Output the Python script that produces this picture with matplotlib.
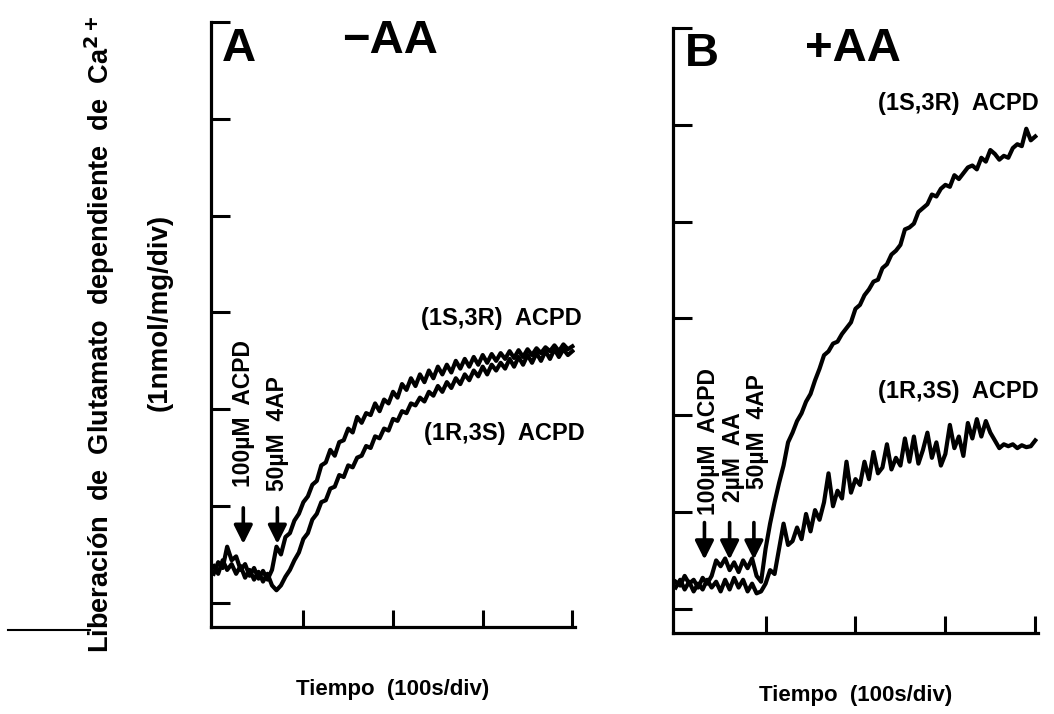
import numpy as np
import matplotlib
matplotlib.use("Agg")
import matplotlib.pyplot as plt
from matplotlib.lines import Line2D

plt.rcParams['font.family'] = ['Liberation Sans', 'DejaVu Sans']
plt.rcParams['font.weight'] = 'bold'

# time axis (div), sampled every 0.05 div
t = np.round(np.arange(0, 4.0001, 0.05), 2)

# panel A (-AA) traces, nmol/mg/div
a_1s3r = [0.30, 0.42, 0.36, 0.58, 0.44, 0.48, 0.34, 0.40, 0.28, 0.36,
          0.25, 0.33, 0.24, 0.34, 0.58, 0.50, 0.68, 0.72, 0.85, 0.92,
          1.04, 1.10, 1.22, 1.26, 1.42, 1.45, 1.58, 1.52, 1.66, 1.68,
          1.80, 1.76, 1.92, 1.86, 1.96, 1.94, 2.06, 1.98, 2.10, 2.06,
          2.18, 2.12, 2.26, 2.20, 2.32, 2.24, 2.36, 2.28, 2.40, 2.32,
          2.44, 2.36, 2.46, 2.38, 2.50, 2.42, 2.52, 2.44, 2.54, 2.46,
          2.56, 2.48, 2.57, 2.50, 2.58, 2.52, 2.60, 2.53, 2.61, 2.54,
          2.62, 2.56, 2.63, 2.58, 2.64, 2.60, 2.66, 2.60, 2.67, 2.62,
          2.65]
a_1r3s = [0.38, 0.30, 0.44, 0.34, 0.40, 0.30, 0.38, 0.26, 0.34, 0.24,
          0.32, 0.22, 0.30, 0.18, 0.13, 0.18, 0.27, 0.34, 0.44, 0.52,
          0.66, 0.72, 0.86, 0.92, 1.04, 1.06, 1.18, 1.20, 1.32, 1.30,
          1.42, 1.40, 1.50, 1.52, 1.62, 1.60, 1.72, 1.70, 1.80, 1.78,
          1.90, 1.88, 1.98, 1.96, 2.06, 2.04, 2.12, 2.08, 2.18, 2.14,
          2.24, 2.18, 2.28, 2.22, 2.32, 2.26, 2.36, 2.30, 2.40, 2.34,
          2.44, 2.36, 2.46, 2.40, 2.48, 2.42, 2.52, 2.44, 2.54, 2.46,
          2.56, 2.48, 2.58, 2.50, 2.60, 2.52, 2.62, 2.54, 2.62, 2.56,
          2.60]

# panel B (+AA) traces
b_1s3r = [0.28, 0.24, 0.34, 0.26, 0.30, 0.22, 0.32, 0.26, 0.34, 0.50,
          0.44, 0.52, 0.40, 0.48, 0.38, 0.50, 0.42, 0.52, 0.34, 0.28,
          0.62, 0.88, 1.10, 1.30, 1.48, 1.72, 1.82, 1.94, 2.02, 2.14,
          2.22, 2.36, 2.48, 2.62, 2.66, 2.74, 2.76, 2.84, 2.90, 2.96,
          3.10, 3.14, 3.24, 3.30, 3.38, 3.40, 3.52, 3.56, 3.66, 3.70,
          3.76, 3.92, 3.94, 3.98, 4.10, 4.14, 4.18, 4.28, 4.26, 4.34,
          4.38, 4.36, 4.48, 4.44, 4.50, 4.56, 4.58, 4.54, 4.66, 4.62,
          4.74, 4.70, 4.64, 4.68, 4.66, 4.76, 4.80, 4.78, 4.96, 4.84,
          4.88]
b_1r3s = [0.22, 0.30, 0.20, 0.28, 0.18, 0.26, 0.20, 0.30, 0.22, 0.28,
          0.18, 0.30, 0.20, 0.32, 0.22, 0.30, 0.18, 0.26, 0.16, 0.18,
          0.26, 0.40, 0.36, 0.62, 0.88, 0.66, 0.70, 0.84, 0.72, 0.98,
          0.80, 1.02, 0.92, 1.10, 1.40, 1.06, 1.22, 1.14, 1.52, 1.20,
          1.34, 1.28, 1.52, 1.34, 1.62, 1.40, 1.46, 1.70, 1.44, 1.56,
          1.48, 1.76, 1.52, 1.78, 1.50, 1.64, 1.82, 1.56, 1.72, 1.48,
          1.60, 1.90, 1.66, 1.78, 1.58, 1.92, 1.76, 1.96, 1.78, 1.94,
          1.82, 1.74, 1.66, 1.70, 1.68, 1.70, 1.66, 1.69, 1.67, 1.68,
          1.74]

# additions (time in div)
arrows_a = [0.33, 0.71]
labels_a = ['100µM  ACPD', '50µM  4AP']
arrows_b = [0.32, 0.60, 0.87]
labels_b = ['100µM  ACPD', '2µM  AA', '50µM  4AP']

fig = plt.figure(figsize=(10.54, 7.14), dpi=100)
axA = fig.add_axes([0.2002, 0.1218, 0.3454, 0.8473])
axB = fig.add_axes([0.6385, 0.1134, 0.3463, 0.8473])


def style(ax):
    ax.set_xlim(-0.03, 4.03)
    ax.set_ylim(-0.25, 6.0)
    for s in ['top', 'right']:
        ax.spines[s].set_visible(False)
    for s in ['left', 'bottom']:
        ax.spines[s].set_linewidth(2.3)
    ax.set_xticks([1, 2, 3, 4])
    ax.set_yticks([0, 1, 2, 3, 4, 5, 6])
    ax.tick_params(axis='y', direction='in', length=14, width=2.2)
    ax.tick_params(axis='x', direction='in', length=12, width=2.2)
    ax.set_xticklabels([])
    ax.set_yticklabels([])
    ax.set_xlabel('Tiempo  (100s/div)', fontsize=16, fontweight='bold',
                  labelpad=34)


def arrow(ax, x, y0, y1):
    ax.annotate('', xy=(x, y1), xytext=(x, y0),
                arrowprops=dict(arrowstyle='-|>', color='black', lw=2.6,
                                mutation_scale=28))


style(axA)
axA.plot(t, a_1s3r, color='black', lw=3.0)
axA.plot(t, a_1r3s, color='black', lw=3.0)
axA.text(0.28, 5.72, 'A', fontsize=34, ha='center', va='center')
axA.text(1.97, 5.80, '−AA', fontsize=34, ha='center', va='center')
axA.text(3.21, 2.94, '(1S,3R)  ACPD', fontsize=17, ha='center', va='center')
axA.text(3.24, 1.75, '(1R,3S)  ACPD', fontsize=17, ha='center', va='center')
for x, lab, yb in zip(arrows_a, labels_a, [1.2, 1.16]):
    arrow(axA, x, 1.01, 0.58)
    axA.text(x, yb, lab, rotation=90, fontsize=16.5, ha='center', va='bottom')

style(axB)
axB.plot(t, b_1s3r, color='black', lw=3.0)
axB.plot(t, b_1r3s, color='black', lw=3.0)
axB.text(0.29, 5.73, 'B', fontsize=34, ha='center', va='center')
axB.text(1.97, 5.78, '+AA', fontsize=34, ha='center', va='center')
axB.text(3.14, 5.22, '(1S,3R)  ACPD', fontsize=17, ha='center', va='center')
axB.text(3.14, 2.25, '(1R,3S)  ACPD', fontsize=17, ha='center', va='center')
for x, lab, yb in zip(arrows_b, labels_b, [0.97, 1.1, 1.24]):
    arrow(axB, x, 0.92, 0.48)
    axB.text(x + 0.04, yb, lab, rotation=90, fontsize=16.5, ha='center', va='bottom')

# shared y-axis title
fig.text(100 / 1054, 1 - 334 / 714,
         'Liberación  de  Glutamato  dependiente  de  Ca$^{\\mathbf{2+}}$',
         rotation=90, fontsize=19.5, fontweight='bold', ha='center', va='center')
fig.text(160 / 1054, 1 - 312 / 714, '(1nmol/mg/div)', rotation=90,
         fontsize=20, fontweight='bold', ha='center', va='center')
fig.add_artist(Line2D([8 / 1054, 90 / 1054], [1 - 630 / 714, 1 - 630 / 714],
                      color='black', lw=1.5))

fig.savefig('out.png', dpi=100)
